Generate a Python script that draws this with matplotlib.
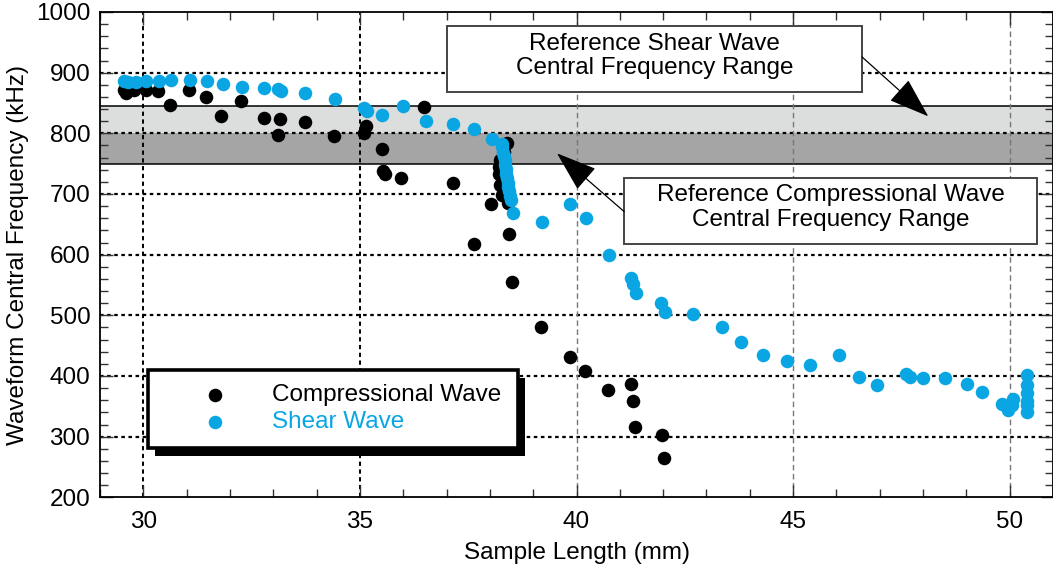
import matplotlib
matplotlib.use("Agg")
import matplotlib.pyplot as plt
from matplotlib.patches import Rectangle
from matplotlib.ticker import MultipleLocator

plt.rcParams["font.family"] = ["Liberation Sans", "DejaVu Sans"]

# Compressional wave central frequency vs. sample length
comp_len = [29.56, 29.60, 29.79, 30.06, 30.35, 30.62, 31.05, 31.45, 31.80, 32.25,
            32.79, 33.15, 33.11, 33.74, 34.40, 35.13, 35.10, 35.50, 35.53, 35.57,
            35.96, 36.48, 37.14, 37.63, 38.02, 38.43, 38.45, 38.51,
            38.40, 38.33, 38.24, 38.21, 38.21, 38.23, 38.29,
            39.17, 39.84, 40.19, 40.72, 41.25, 41.30, 41.34, 41.97, 42.02]
comp_freq = [871, 866, 871, 871, 869, 847, 871, 860, 828, 854,
             826, 824, 798, 819, 795, 812, 800, 774, 738, 733,
             726, 843, 718, 617, 683, 685, 634, 555,
             784, 770, 756, 744, 733, 715, 698,
             481, 431, 408, 377, 386, 358, 316, 302, 265]

# Shear wave central frequency vs. sample length
shear_len = [29.56, 29.64, 29.83, 30.06, 30.37, 30.64, 31.08, 31.47, 31.83, 32.28,
             32.79, 33.11, 33.17, 33.74, 34.43, 35.10, 35.17, 35.52, 35.99, 36.53,
             37.16, 37.63, 38.04,
             38.27, 38.29, 38.31, 38.32, 38.34, 38.35, 38.37, 38.38, 38.40, 38.41,
             38.43, 38.44, 38.46, 38.48,
             38.54, 39.20, 39.85, 40.22, 40.76, 41.25, 41.31, 41.37, 41.96, 42.04,
             42.70, 43.37, 43.80, 44.30, 44.86, 45.38, 46.05, 46.53, 46.93, 47.61,
             47.70, 47.99, 48.51, 49.02, 49.37, 49.82, 49.97, 50.08, 50.05,
             50.39, 50.39, 50.39, 50.39, 50.39, 50.39]
shear_freq = [887, 885, 884, 886, 886, 888, 888, 886, 881, 876,
              874, 873, 869, 867, 857, 841, 837, 831, 845, 820,
              816, 807, 791,
              783, 777, 768, 762, 756, 747, 741, 733, 727, 718,
              712, 705, 697, 690,
              669, 653, 684, 660, 600, 562, 551, 537, 520, 505,
              502, 481, 456, 434, 424, 418, 434, 398, 385, 403,
              399, 396, 396, 386, 374, 354, 344, 362, 352,
              402, 385, 372, 358, 352, 341]

# Reference central frequency ranges (kHz)
shear_ref = (800, 845)
comp_ref = (750, 800)

BLUE = "#0AA6E3"
FS = 17.5

fig = plt.figure(figsize=(10.53, 5.72), dpi=100)
ax = fig.add_axes([100 / 1053, 1 - 497.3 / 572, 953 / 1053, 485.3 / 572])
ax.set_xlim(29, 51)
ax.set_ylim(200, 1000)

# reference bands
ax.axhspan(*shear_ref, color="#DCDEDD", zorder=0, lw=0)
ax.axhspan(*comp_ref, color="#A5A5A5", zorder=0, lw=0)
ax.axhline(shear_ref[1], color="black", lw=1.1, zorder=1)
ax.axhline(comp_ref[0], color="black", lw=1.1, zorder=1)

# grid
for yv in range(300, 1000, 100):
    ax.axhline(yv, color="black", lw=1.6, ls=(0, (1.6, 1.6)), zorder=1)
for xv in (30, 35):
    ax.axvline(xv, color="black", lw=1.4, ls=(0, (2.2, 1.8)), zorder=1)
for xv in (40, 45, 50):
    ax.axvline(xv, color="#777777", lw=1.0, ls=(0, (4, 2.5)), zorder=1)

ax.scatter(comp_len, comp_freq, s=95, color="black", lw=0, zorder=3)
ax.scatter(shear_len, shear_freq, s=95, color=BLUE, lw=0, zorder=4)

# axes styling
for sp in ax.spines.values():
    sp.set_linewidth(1.3)
ax.xaxis.set_major_locator(MultipleLocator(5))
ax.xaxis.set_minor_locator(MultipleLocator(1))
ax.yaxis.set_major_locator(MultipleLocator(100))
ax.yaxis.set_minor_locator(MultipleLocator(20))
ax.tick_params(which="both", direction="in", top=True, right=True, labelsize=FS,
               width=1.0, color="#333333")
ax.tick_params(which="major", length=9)
ax.tick_params(axis="x", which="major", pad=10)
ax.tick_params(axis="y", which="major", pad=7)
ax.tick_params(which="minor", length=6)
ax.set_xlabel("Sample Length (mm)", fontsize=FS, labelpad=6)
ax.set_ylabel("Waveform Central Frequency (kHz)", fontsize=FS, labelpad=5)

# annotation boxes with arrows
def note(x0, x1, y0, y1, lines, ycoords, tail, head):
    ax.add_patch(Rectangle((x0, y0), x1 - x0, y1 - y0, facecolor="white",
                           edgecolor="#444444", lw=1.4, zorder=5))
    xc = (x0 + x1) / 2
    for txt, yy in zip(lines, ycoords):
        ax.text(xc, yy, txt, ha="center", va="center", fontsize=FS, zorder=6)
    ax.annotate("", xy=head, xytext=tail,
                arrowprops=dict(arrowstyle="-|>,head_length=1.3,head_width=0.45",
                                mutation_scale=20, lw=0.9, color="black",
                                shrinkA=0, shrinkB=0), zorder=6)

note(37.02, 46.59, 868.7, 977.5,
     ["Reference Shear Wave", "Central Frequency Range"], [947, 908],
     (46.59, 926), (48.12, 828))
note(41.10, 50.63, 617.6, 726.9,
     ["Reference Compressional Wave", "Central Frequency Range"], [698, 657],
     (41.10, 671), (39.55, 767))

# legend box with drop shadow
tr = ax.transAxes
lx0, lx1, ly0, ly1 = 0.0504, 0.4386, 0.1016, 0.2623
ax.add_patch(Rectangle((lx0 + 0.0075, ly0 - 0.016), lx1 - lx0, ly1 - ly0,
                       transform=tr, facecolor="black", edgecolor="black",
                       lw=0, zorder=7))
ax.add_patch(Rectangle((lx0, ly0), lx1 - lx0, ly1 - ly0, transform=tr,
                       facecolor="white", edgecolor="black", lw=2.6, zorder=8))
ax.scatter([0.1207], [0.2108], s=95, color="black", lw=0, transform=tr, zorder=9)
ax.scatter([0.1207], [0.1552], s=95, color=BLUE, lw=0, transform=tr, zorder=9)
ax.text(0.1805, 0.2108, "Compressional Wave", transform=tr, fontsize=FS,
        va="center", ha="left", zorder=9)
ax.text(0.1805, 0.1552, "Shear Wave", transform=tr, fontsize=FS, color=BLUE,
        va="center", ha="left", zorder=9)

fig.savefig("out.png", dpi=100)
